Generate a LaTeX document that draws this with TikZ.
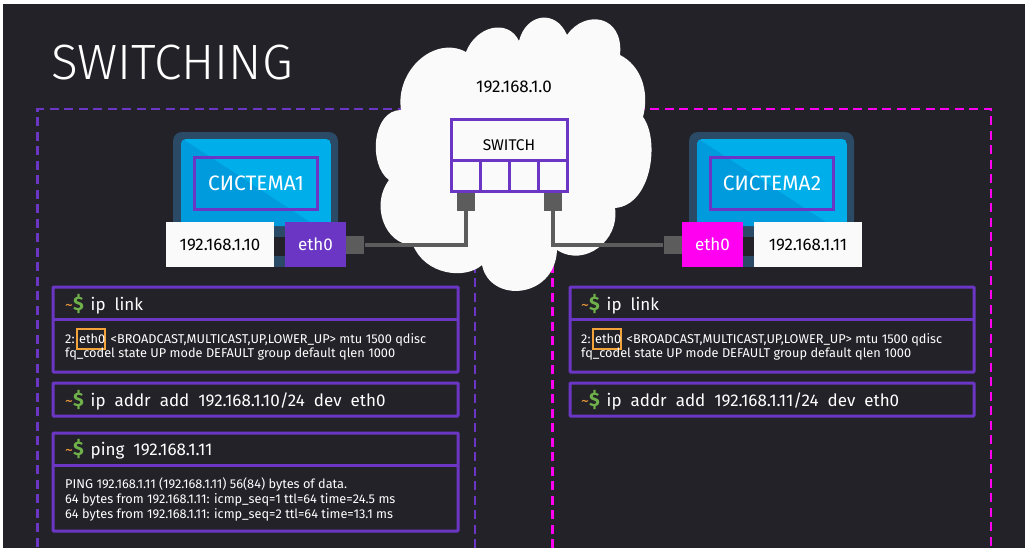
\documentclass[tikz,border=0pt]{standalone}
\usepackage{fontspec}
\setmainfont{Fira Sans}
\newfontfamily\firalight{Fira Sans Light}
\newfontfamily\firacmd[WordSpace=2.0]{Fira Sans}
\usetikzlibrary{calc}
\definecolor{bgdark}{HTML}{232228}
\definecolor{vio}{HTML}{6B36C4}
\definecolor{mag}{HTML}{FF00F0}
\definecolor{frameblue}{HTML}{2B4A66}
\definecolor{screenA}{HTML}{00AEEA}
\definecolor{screenB}{HTML}{009BDD}
\definecolor{plug}{HTML}{5C5C5C}
\definecolor{tilde}{HTML}{EE9A3A}
\definecolor{dollar}{HTML}{6FB04A}
\definecolor{hl}{HTML}{F2A33A}
\definecolor{paper}{HTML}{FAFAFA}
\newcommand{\prompt}[1]{{\fontsize{16}{16}\selectfont\textcolor{tilde}{\char"007E}\fontsize{19.5}{19.5}\selectfont\bfseries\textcolor{dollar}{\$}}\hspace{7pt}{\firacmd\fontsize{17}{17}\selectfont #1}}
\tikzset{
  x=1pt,y=-1pt,
  zone/.style={line width=2.4pt,dash pattern=on 9pt off 5.5pt},
  panel/.style={draw=vio,line width=3pt,rounded corners=0.8pt},
  cmd/.style={anchor=base west,inner sep=0pt,text=white},
  outtext/.style={anchor=base west,inner sep=0pt,text=white,font=\fontsize{12.75}{14.8}\selectfont},
  wbox/.style={fill=paper,text=black,inner sep=0pt,font=\fontsize{16.8}{16.8}\selectfont},
  ethbox/.style={text=white,inner sep=0pt,font=\fontsize{17}{17}\selectfont},
  sysbox/.style={draw=vio,line width=3pt,text=white,inner sep=0pt,font=\fontsize{20.9}{20.9}\selectfont},
  plugbox/.style={fill=plug,inner sep=0pt,minimum width=18pt,minimum height=18pt},
  cable/.style={draw=plug,line width=4pt},
  portbox/.style={draw=vio,line width=3pt,fill=paper,inner sep=0pt,minimum width=29pt,minimum height=31pt},
}
\begin{document}
\begin{tikzpicture}
\useasboundingbox (0,0) rectangle (1025,550);
\fill[white] (0,0) rectangle (1025,550);
\fill[bgdark] (3,4) rectangle (1025,548);

% title
\node[anchor=base west,inner sep=0pt,text=white,font=\firalight\fontsize{49.6}{49.6}\selectfont] (title) at (51,79) {SWITCHING};

% zones
\draw[zone,vio] (475,548) -- (475,109) -- (37.5,109) -- (37.5,548);
\draw[zone,mag] (552.5,548) -- (552.5,109) -- (991,109) -- (991,548);

% laptops
\foreach \dx/\nm in {0/A,516/B}{
  \begin{scope}[xshift=\dx pt]
    \fill[frameblue,rounded corners=9pt] (173,132) rectangle (338,240);
    \fill[frameblue] (173,226) rectangle (338,237);
    \fill[frameblue] (173,256) rectangle (338,267);
    \fill[bgdark] (173,237) rectangle (338,256);
    \begin{scope}
      \clip[rounded corners=5pt] (181,139) rectangle (331,240);
      \clip (181,139) rectangle (331,226);
      \fill[screenA] (181,139) rectangle (331,226);
      \fill[screenB] (181,138) -- (316,226) -- (181,226) -- cycle;
    \end{scope}
  \end{scope}
}
\node[sysbox,minimum width=123pt,minimum height=52pt] (sys1) at (256,183.5) {СИСТЕМА1};
\node[sysbox,minimum width=123pt,minimum height=52pt] (sys2) at (772,183.5) {СИСТЕМА2};

% cloud
\fill[paper] (466,52)
  .. controls (476,26) and (508,18) .. (519,41)
  .. controls (526,13) and (556,9) .. (567,35)
  .. controls (585,9) and (624,15) .. (620,55)
  .. controls (640,65) and (650,90) .. (643,117)
  .. controls (660,140) and (652,205) .. (615,208)
  .. controls (620,240) and (585,268) .. (557,250)
  .. controls (555,299) and (490,304) .. (482,265)
  .. controls (465,280) and (425,275) .. (413,245)
  .. controls (385,245) and (370,205) .. (389,180)
  .. controls (368,165) and (372,110) .. (401,110)
  .. controls (395,70) and (435,35) .. (466,52) -- cycle;
\node[inner sep=0pt,text=black,font=\fontsize{17}{17}\selectfont] (net) at (514,87) {192.168.1.0};

% address boxes
\node[wbox,minimum width=108pt,minimum height=45pt] (ipa) at (220,244.5) {192.168.1.10};
\node[fill=vio,ethbox,minimum width=61pt,minimum height=45pt] (etha) at (315.5,244.5) {eth0};
\node[wbox,minimum width=108pt,minimum height=45pt] (ipb) at (808,244.5) {192.168.1.11};
\node[fill=mag,ethbox,minimum width=61pt,minimum height=45pt] (ethb) at (712.5,244.5) {eth0};

% switch
\node[draw=vio,line width=3pt,fill=paper,inner sep=0pt,minimum width=116pt,minimum height=41pt] (sw) at (509,140) {};
\node[inner sep=0pt,text=black,font=\fontsize{15.5}{15.5}\selectfont] (swlabel) at (509,145) {SWITCH};
\node[portbox] (p1) at (465.5,175.5) {};
\node[portbox] (p2) at (494.5,175.5) {};
\node[portbox] (p3) at (523.5,175.5) {};
\node[portbox] (p4) at (552.5,175.5) {};

% plugs and cables
\node[plugbox,anchor=north] (s1) at (p1.south) {};
\node[plugbox,anchor=north] (s4) at (p4.south) {};
\node[plugbox,anchor=west] (pa) at (etha.east) {};
\node[plugbox,anchor=east] (pb) at (ethb.west) {};
\draw[cable] (pa) -- (s1 |- pa) -- (s1);
\draw[cable] (pb) -- (s4 |- pb) -- (s4);

% panels left
\draw[panel] (53,287) rectangle (458,372);
\draw[panel] (53,319) -- (458,319);
\draw[panel] (53,383) rectangle (458,416);
\draw[panel] (53,433) rectangle (458,531);
\draw[panel] (53,465) -- (458,465);
% panels right
\draw[panel] (570,287) rectangle (974,372);
\draw[panel] (570,319) -- (974,319);
\draw[panel] (570,383) rectangle (974,416);

% orange highlights
\node[draw=hl,line width=2pt,inner sep=0pt,minimum width=28pt,minimum height=20pt] (hla) at (90.5,338.5) {};
\node[draw=hl,line width=2pt,inner sep=0pt,minimum width=28pt,minimum height=20pt] (hlb) at (606.5,338.5) {};

% terminal text left
\node[cmd] (c1) at (65,310) {\prompt{ip link}};
\node[outtext,align=left,anchor=north west] (o1) at (65,333) {2: eth0 \,<BROADCAST,MULTICAST,UP,LOWER\_UP> mtu 1500 qdisc\\fq\_codel state UP mode DEFAULT group default qlen 1000};
\node[cmd] (c2) at (65,406) {\prompt{ip addr add 192.168.1.10/24 dev eth0}};
\node[cmd] (c3) at (65,455) {\prompt{ping 192.168.1.11}};
\node[outtext,align=left,anchor=north west] (o3) at (65,478) {PING 192.168.1.11 (192.168.1.11) 56(84) bytes of data.\\64 bytes from 192.168.1.11: icmp\_seq=1 ttl=64 time=24.5 ms\\64 bytes from 192.168.1.11: icmp\_seq=2 ttl=64 time=13.1 ms};
% terminal text right
\node[cmd] (c4) at (581,310) {\prompt{ip link}};
\node[outtext,align=left,anchor=north west] (o4) at (581,333) {2: eth0 \,<BROADCAST,MULTICAST,UP,LOWER\_UP> mtu 1500 qdisc\\fq\_codel state UP mode DEFAULT group default qlen 1000};
\node[cmd] (c5) at (581,406) {\prompt{ip addr add 192.168.1.11/24 dev eth0}};
\end{tikzpicture}
\end{document}
